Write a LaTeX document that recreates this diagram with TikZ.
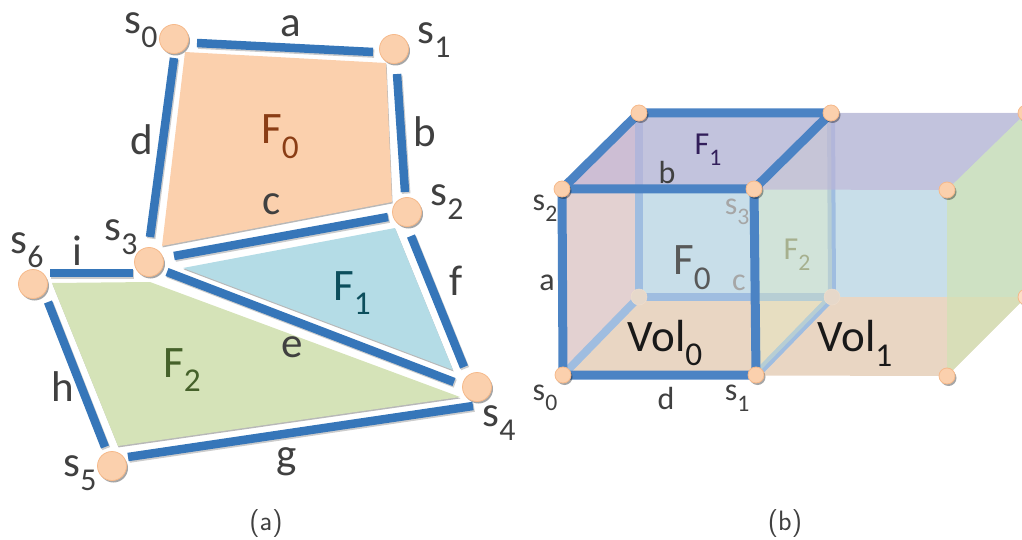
\documentclass[tikz,border=0pt]{standalone}
\usepackage{fontspec,graphicx}
\setmainfont{Carlito}
\usetikzlibrary{backgrounds,shadows}
\newcommand{\lbl}[2]{#1\raisebox{-.33em}{\scalebox{.74}{#2}}}
\definecolor{edgeblue}{HTML}{3676B9}
\definecolor{frontblue}{HTML}{4B83C4}
\definecolor{hidblue}{HTML}{9FBDE0}
\definecolor{dotfill}{HTML}{FBD0AD}
\definecolor{dotline}{HTML}{F6B98A}
\definecolor{labgray}{HTML}{404040}
\begin{document}
\begin{tikzpicture}[
    x=1pt, y=-1pt,
    dot/.style={circle, fill=dotfill, draw=dotline, line width=0.8pt, inner sep=0pt, minimum size=29pt,
        drop shadow={shadow xshift=1.5pt, shadow yshift=-2pt, opacity=.35, fill=black}},
    cdot/.style={dot, minimum size=16pt},
    fadedot/.style={circle, fill={rgb,255:red,230;green,216;blue,202}, draw={rgb,255:red,238;green,222;blue,205}, line width=0.5pt, inner sep=0pt, minimum size=16pt},
    bar/.style={draw=edgeblue, line width=8.5pt,
        preaction={draw=black, draw opacity=.2, line width=8.5pt, transform canvas={shift={(1.2pt,-1.6pt)}}}},
    front/.style={draw=frontblue, line width=9pt},
    hidden/.style={draw=hidblue, line width=8pt},
    face/.style={preaction={fill=black!28, transform canvas={shift={(.6pt,-1.4pt)}}}},
    wall/.style={fill opacity=.7},
    lab/.style={inner sep=0pt, text=labgray, font=\fontsize{43}{43}\selectfont},
    flab/.style={inner sep=0pt, font=\fontsize{45}{45}\selectfont},
    clab/.style={inner sep=0pt, text=labgray, font=\fontsize{32}{32}\selectfont},
    subcap/.style={inner sep=0pt, text=labgray, font=\sffamily\fontsize{28}{28}\selectfont},
]
\useasboundingbox (0,0) rectangle (1022,540);
% (a) planar graph
\node[dot] (s0) at (174,39) {};
\node[dot] (s1) at (394,49) {};
\node[dot] (s2) at (407,212) {};
\node[dot] (s3) at (149,262) {};
\node[dot] (s4) at (477,387) {};
\node[dot] (s5) at (112,466) {};
\node[dot] (s6) at (33,284) {};
\begin{scope}[on background layer]
\fill[face, fill=dotfill] (185,52) -- (386,63) -- (392,202) -- (162,246) -- cycle;
\fill[face, fill={rgb,255:red,180;green,220;blue,230}] (183,268) -- (395,228) -- (453,370) -- cycle;
\fill[face, fill={rgb,255:red,213;green,227;blue,184}] (52,283) -- (150,282) -- (460,397) -- (118,446) -- cycle;
\draw[bar] ([shift={(23,4)}]s0.center) -- ([shift={(-21,3)}]s1.center);
\draw[bar] ([shift={(3,25)}]s1.center) -- ([shift={(-2,-20)}]s2.center);
\draw[bar] ([shift={(25,-6)}]s3.center) -- ([shift={(-19,5)}]s2.center);
\draw[bar] ([shift={(0,19)}]s0.center) -- ([shift={(1,-25)}]s3.center);
\draw[bar] ([shift={(18,10)}]s3.center) -- ([shift={(-23,-5)}]s4.center);
\draw[bar] ([shift={(4,24)}]s2.center) -- ([shift={(-13,-20)}]s4.center);
\draw[bar] ([shift={(16,-9)}]s5.center) -- ([shift={(-4,19)}]s4.center);
\draw[bar] ([shift={(15,18)}]s6.center) -- ([shift={(-7,-19)}]s5.center);
\draw[bar] ([shift={(17,-11)}]s6.center) -- ([shift={(-16,11)}]s3.center);
\end{scope}
\node[lab] (ts0) at (141,30) {\lbl{s}{0}};
\node[lab] (ts1) at (434,40) {\lbl{s}{1}};
\node[lab] (ts2) at (447,202) {\lbl{s}{2}};
\node[lab] (ts3) at (121,237) {\lbl{s}{3}};
\node[lab] (ts4) at (499,423) {\lbl{s}{4}};
\node[lab] (ts5) at (80,473) {\lbl{s}{5}};
\node[lab] (ts6) at (27,250) {\lbl{s}{6}};
\node[lab] (ta) at (291,26) {a};
\node[lab] (tb) at (425,132) {b};
\node[lab] (tc) at (272,204) {c};
\node[lab] (td) at (142,140) {d};
\node[lab] (te) at (292,347) {e};
\node[lab] (tf) at (456,281) {f};
\node[lab] (tg) at (287,462) {g};
\node[lab] (th) at (63,387) {h};
\node[lab] (ti) at (77,251) {i};
\node[flab, text={rgb,255:red,138;green,61;blue,21}] (tF0) at (280,137) {\lbl{F}{0}};
\node[flab, text={rgb,255:red,12;green,78;blue,92}] (tF1) at (352,293) {\lbl{F}{1}};
\node[flab, text={rgb,255:red,69;green,97;blue,42}] (tF2) at (182,370) {\lbl{F}{2}};
\node[subcap] (capa) at (266,524) {(a)};

% (b) two stacked cells
\node[cdot] (c0) at (563,375) {};
\node[cdot] (c1) at (756,375) {};
\node[cdot] (c2) at (562,189) {};
\node[cdot] (c3) at (754,189) {};
\node[cdot] (c4) at (639,113) {};
\node[cdot] (c5) at (831,113) {};
\node[fadedot] (c6) at (639,297) {};
\node[fadedot] (c7) at (832,297) {};
\node[cdot] (c8) at (947,190) {};
\node[cdot] (c9) at (947,376) {};
\node[cdot] (c10) at (1026,113) {};
\node[cdot, fill=dotfill!70!white] (c11) at (1026,297) {};
\begin{scope}[on background layer]
\fill[wall, fill={rgb,255:red,176;green,208;blue,223}] (c4.center) -- (c10.center) -- (c11.center) -- (c6.center) -- cycle;
\fill[wall, fill={rgb,255:red,224;green,196;blue,170}] (c0.center) -- (c9.center) -- (c11.center) -- (c6.center) -- cycle;
\fill[wall, fill={rgb,255:red,215;green,189;blue,189}] (c0.center) -- (c2.center) -- (c4.center) -- (c6.center) -- cycle;
\draw[hidden] (c4.center) -- (c6.center);
\draw[hidden] (c6.center) -- (c7.center);
\draw[hidden] (c0.center) -- (c6.center);
\draw[hidden] (c1.center) -- (c7.center);
\draw[hidden] (c5.center) -- (c7.center);
\fill[fill opacity=.35, fill={rgb,255:red,228;green,238;blue,190}] (c1.center) -- (c3.center) -- (c5.center) -- (c7.center) -- cycle;
\fill[fill opacity=.6, fill={rgb,255:red,191;green,178;blue,215}] (c2.center) -- (c4.center) -- (c10.center) -- (c8.center) -- cycle;
\fill[wall, fill={rgb,255:red,209;green,227;blue,180}] (c8.center) -- (c9.center) -- (c11.center) -- (c10.center) -- cycle;
\draw[front, line join=round] (c0.center) -- (c1.center) -- (c3.center) -- (c2.center) -- cycle;
\draw[front, line join=round] (c2.center) -- (c4.center) -- (c5.center) -- (c3.center);
\end{scope}
\node[clab] (ls0) at (545,398) {\lbl{s}{0}};
\node[clab] (ls1) at (737,398) {\lbl{s}{1}};
\node[clab] (ls2) at (545,208) {\lbl{s}{2}};
\node[clab, text=black!35] (ls3) at (737,212) {\lbl{s}{3}};
\node[clab] (la) at (547,283) {a};
\node[clab] (lb) at (667,173) {b};
\node[clab, text=black!35] (lc) at (739,283) {c};
\node[clab] (ld) at (666,398) {d};
\node[flab, text=black!65] (lF0) at (692,268) {\lbl{F}{0}};
\node[clab, text={rgb,255:red,50;green,30;blue,90}] (lF1) at (708,150) {\lbl{F}{1}};
\node[clab, text={rgb,255:red,166;green,176;blue,142}] (lF2) at (797,255) {\lbl{F}{2}};
\node[flab, text=black!90] (vol0) at (665,343) {\lbl{Vol}{0}};
\node[flab, text=black!90] (vol1) at (855,343) {\lbl{Vol}{1}};
\node[subcap] (capb) at (785,524) {(b)};
\end{tikzpicture}
\end{document}
